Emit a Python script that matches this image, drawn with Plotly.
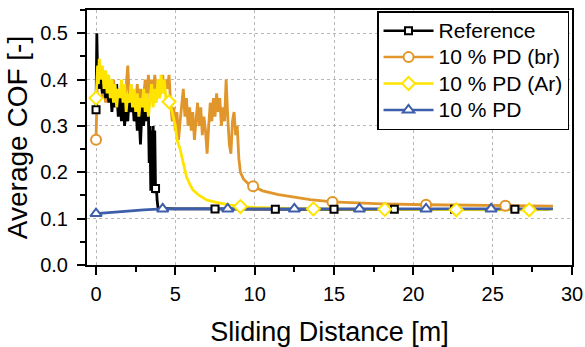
import plotly.graph_objects as go

# ---------------- data ----------------
ref_x = [0.0, 0.05, 0.1, 0.15, 0.2, 0.3, 0.4, 0.5, 0.6, 0.7, 0.8, 0.9, 1.0, 1.1, 1.2, 1.3, 1.4, 1.5,
         1.6, 1.7, 1.8, 1.9, 2.0, 2.1, 2.2, 2.3, 2.4, 2.5, 2.6, 2.7, 2.8, 2.9, 3.0, 3.1, 3.2, 3.3,
         3.35, 3.4, 3.45, 3.5, 3.55, 3.6, 3.65, 3.7, 3.75, 3.8, 3.85, 3.9, 4.0, 5.0, 7.5, 11.3,
         15.0, 18.8, 22.6, 26.4, 28.5]
ref_y = [0.335, 0.50, 0.40, 0.44, 0.38, 0.42, 0.37, 0.41, 0.36, 0.40, 0.35, 0.39, 0.33, 0.38, 0.34,
         0.39, 0.32, 0.37, 0.31, 0.36, 0.30, 0.35, 0.31, 0.37, 0.33, 0.36, 0.31, 0.35, 0.29, 0.33,
         0.26, 0.34, 0.30, 0.36, 0.31, 0.33, 0.22, 0.30, 0.16, 0.29, 0.17, 0.30, 0.155, 0.29, 0.16,
         0.17, 0.14, 0.125, 0.122, 0.121, 0.121, 0.120, 0.120, 0.120, 0.120, 0.120, 0.120]
ref_mx = [0.0, 3.75, 7.5, 11.3, 15.0, 18.8, 22.6, 26.4]
ref_my = [0.335, 0.165, 0.121, 0.120, 0.120, 0.120, 0.120, 0.120]

br_x = [0.0, 0.05, 0.1, 0.2, 0.3, 0.4, 0.5, 0.6, 0.7, 0.8, 0.9, 1.0, 1.1, 1.2, 1.3, 1.4, 1.5, 1.6,
        1.7, 1.8, 1.9, 2.0, 2.1, 2.2, 2.3, 2.4, 2.5, 2.6, 2.7, 2.8, 2.9, 3.0, 3.1, 3.2, 3.3, 3.4,
        3.5, 3.6, 3.7, 3.8, 3.9, 4.0, 4.1, 4.2, 4.3, 4.4, 4.5, 4.6, 4.7, 4.8, 4.9, 5.0, 5.1, 5.2,
        5.3, 5.4, 5.5, 5.6, 5.7, 5.8, 5.9, 6.0, 6.1, 6.2, 6.3, 6.4, 6.5, 6.6, 6.7, 6.8, 6.9, 7.0,
        7.1, 7.2, 7.3, 7.4, 7.5, 7.6, 7.7, 7.8, 7.9, 8.0, 8.1, 8.2, 8.3, 8.4, 8.5, 8.6, 8.7, 8.8,
        8.9, 9.0, 9.1, 9.3, 9.6, 9.9, 10.5, 11.5, 12.5, 13.5, 14.9, 16.0, 18.0, 20.8, 23.0, 25.8,
        28.8]
br_y = [0.27, 0.36, 0.43, 0.38, 0.42, 0.36, 0.40, 0.35, 0.41, 0.37, 0.39, 0.34, 0.40, 0.36, 0.38,
        0.33, 0.37, 0.35, 0.39, 0.34, 0.38, 0.43, 0.36, 0.39, 0.33, 0.37, 0.35, 0.39, 0.34, 0.38,
        0.33, 0.36, 0.40, 0.35, 0.41, 0.37, 0.40, 0.36, 0.41, 0.38, 0.40, 0.36, 0.39, 0.41, 0.37,
        0.40, 0.38, 0.41, 0.35, 0.31, 0.34, 0.29, 0.33, 0.27, 0.31, 0.35, 0.38, 0.32, 0.36, 0.30,
        0.34, 0.29, 0.33, 0.27, 0.31, 0.35, 0.30, 0.34, 0.28, 0.32, 0.29, 0.24, 0.30, 0.35, 0.31,
        0.36, 0.32, 0.37, 0.33, 0.36, 0.30, 0.34, 0.31, 0.40, 0.32, 0.26, 0.24, 0.31, 0.33, 0.28,
        0.30, 0.23, 0.20, 0.185, 0.175, 0.17, 0.16, 0.152, 0.146, 0.141, 0.136, 0.134, 0.132,
        0.130, 0.129, 0.128, 0.127]
br_mx = [0.0, 9.9, 14.9, 20.8, 25.8]
br_my = [0.27, 0.17, 0.136, 0.130, 0.128]

ar_x = [0.0, 0.05, 0.1, 0.15, 0.2, 0.3, 0.4, 0.5, 0.6, 0.7, 0.8, 0.9, 1.0, 1.1, 1.2, 1.3, 1.4, 1.5,
        1.6, 1.7, 1.8, 1.9, 2.0, 2.1, 2.2, 2.3, 2.4, 2.5, 2.6, 2.7, 2.8, 2.9, 3.0, 3.1, 3.2, 3.3,
        3.4, 3.5, 3.6, 3.7, 3.8, 3.9, 4.0, 4.1, 4.2, 4.3, 4.4, 4.5, 4.6, 4.8, 5.0, 5.1, 5.3, 5.5,
        5.7, 5.9, 6.1, 6.5, 7.0, 7.6, 8.3, 9.1, 10.0, 12.0, 13.7, 18.2, 22.7, 27.3, 28.7]
ar_y = [0.36, 0.40, 0.43, 0.39, 0.445, 0.40, 0.43, 0.38, 0.42, 0.37, 0.41, 0.36, 0.40, 0.35, 0.39,
        0.34, 0.38, 0.36, 0.40, 0.35, 0.39, 0.33, 0.37, 0.35, 0.39, 0.34, 0.38, 0.33, 0.37, 0.32,
        0.36, 0.34, 0.38, 0.33, 0.37, 0.32, 0.35, 0.39, 0.34, 0.38, 0.35, 0.40, 0.36, 0.41, 0.37,
        0.40, 0.36, 0.35, 0.352, 0.33, 0.30, 0.27, 0.25, 0.22, 0.19, 0.175, 0.162, 0.15, 0.14,
        0.135, 0.13, 0.126, 0.124, 0.122, 0.121, 0.120, 0.119, 0.119, 0.120]
ar_mx = [0.0, 4.6, 9.1, 13.7, 18.2, 22.7, 27.3]
ar_my = [0.36, 0.352, 0.126, 0.121, 0.120, 0.119, 0.119]

pd_x = [0.0, 1.0, 2.0, 3.0, 4.2, 8.3, 12.5, 16.6, 20.8, 24.9, 28.8]
pd_y = [0.111, 0.114, 0.117, 0.119, 0.121, 0.121, 0.121, 0.121, 0.121, 0.121, 0.121]
pd_mx = [0.0, 4.2, 8.3, 12.5, 16.6, 20.8, 24.9]
pd_my = [0.111, 0.121, 0.121, 0.121, 0.121, 0.121, 0.121]

series_names = ["Reference", "10 % PD (br)", "10 % PD (Ar)", "10 % PD"]
x_ticks = [0, 5, 10, 15, 20, 25, 30]
y_ticks = [0.0, 0.1, 0.2, 0.3, 0.4, 0.5]

# ---------------- styles ----------------
C_REF = "#000000"
C_BR = "#E0962A"
C_AR = "#FFE400"
C_PD = "#3E5EAB"

specs = [
    (series_names[0], C_REF, "square", 7, ref_x, ref_y, ref_mx, ref_my),
    (series_names[1], C_BR, "circle", 10, br_x, br_y, br_mx, br_my),
    (series_names[2], C_AR, "diamond", 10, ar_x, ar_y, ar_mx, ar_my),
    (series_names[3], C_PD, "triangle-up", 10, pd_x, pd_y, pd_mx, pd_my),
]

fig = go.Figure()

# legend entries first
for i, (name, col, sym, sz, x, y, mx, my) in enumerate(specs):
    fig.add_trace(go.Scatter(
        x=[None], y=[None], mode="lines+markers",
        name=f"<span style='font-size:21px'>{name}</span>", legendgroup=name,
        line=dict(color=col, width=2.5),
        marker=dict(symbol=sym, size=sz, color="white", line=dict(color=col, width=2)),
        showlegend=True))

draw_order = [1, 0, 2, 3]
for i in draw_order:
    name, col, sym, sz, x, y, mx, my = specs[i]
    fig.add_trace(go.Scatter(
        x=x, y=y, mode="lines", legendgroup=name, showlegend=False,
        line=dict(color=col, width=2.8), hoverinfo="skip"))
for i in draw_order:
    name, col, sym, sz, x, y, mx, my = specs[i]
    fig.add_trace(go.Scatter(
        x=mx, y=my, mode="markers", legendgroup=name, showlegend=False,
        marker=dict(symbol=sym, size=sz, color="white", line=dict(color=col, width=2))))

FONT = "Liberation Sans, Arial, sans-serif"
axis_common = dict(
    showline=True, linecolor="black", linewidth=2, mirror=True,
    ticks="outside", ticklen=8, tickwidth=1.5, tickcolor="black",
    showgrid=True, gridcolor="#b8b8b8", griddash="dot", gridwidth=1,
    zeroline=False, automargin=False,
    tickfont=dict(family=FONT, size=20, color="black"),
)

fig.update_xaxes(
    range=[-0.57, 30.0], tickvals=x_ticks, ticktext=[str(v) for v in x_ticks],
    ticklabelstandoff=2,
    minor=dict(ticks="outside", ticklen=5, tickwidth=1.5, tickcolor="black", dtick=2.5, tick0=0, showgrid=False),
    title=dict(text="Sliding Distance [m]", font=dict(family=FONT, size=27, color="black"), standoff=18),
    **axis_common)
fig.update_yaxes(
    range=[0, 0.55], tickvals=y_ticks, ticktext=[f"{v:.1f}" for v in y_ticks],
    ticklabelstandoff=5,
    minor=dict(ticks="outside", ticklen=5, tickwidth=1.5, tickcolor="black", dtick=0.05, tick0=0, showgrid=False),
    title=dict(text="Average COF [-]", font=dict(family=FONT, size=28, color="black"), standoff=4),
    **axis_common)

fig.update_layout(
    width=585, height=347,
    margin=dict(l=87, r=13, t=10, b=82),
    paper_bgcolor="white", plot_bgcolor="white",
    showlegend=True,
    legend=dict(
        x=0.598, y=0.996, xanchor="left", yanchor="top",
        bgcolor="white", bordercolor="black", borderwidth=1.5,
        font=dict(family=FONT, size=18, color="black"),
        tracegroupgap=0, itemwidth=50,
    ),
)

fig.write_html("out.html", config={"displayModeBar": False},
               post_script="document.body.style.margin='0px';")
